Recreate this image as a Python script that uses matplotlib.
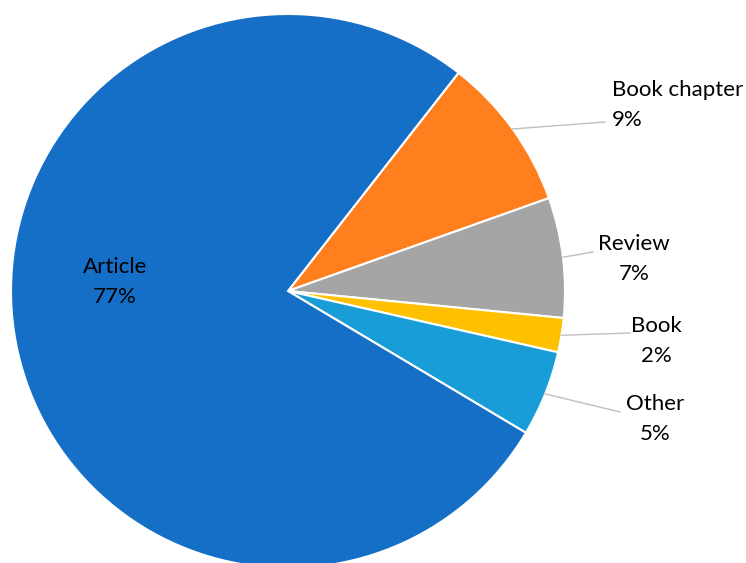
import numpy as np
import matplotlib.pyplot as plt

# Données (parts en %)
categories = ['Book chapter', 'Review', 'Book', 'Other', 'Article']
values = [9, 7, 2, 5, 77]
colors = ['#FF7F1F', '#A5A5A5', '#FFC000', '#199DD8', '#156FC6']

# Positions des étiquettes (coordonnées pixels de l'image, centre du texte)
label_pos = {
    'Book chapter': (612, 105, 'left'),
    'Review': (634, 259, 'center'),
    'Book': (656, 341, 'center'),
    'Other': (655, 419, 'center'),
    'Article': (115, 282, 'center'),
}
line_end = {
    'Book chapter': (605, 122),
    'Review': (593, 252),
    'Book': (630, 333),
    'Other': (620, 412),
}

W, H = 746, 563
cx, cy, R = 288, 291, 277

def px(x, y):
    return (x - cx) / R, (cy - y) / R

fig = plt.figure(figsize=(W / 100, H / 100), dpi=100)
ax = fig.add_axes([0, 0, 1, 1])

wedges, _ = ax.pie(values, colors=colors, startangle=52, counterclock=False,
                   wedgeprops=dict(edgecolor='white', linewidth=1.5))

ax.set_xlim(-cx / R, (W - cx) / R)
ax.set_ylim(-(H - cy) / R, cy / R)
ax.set_aspect('equal')
ax.axis('off')

for w, name, v in zip(wedges, categories, values):
    tx, ty, ha = label_pos[name]
    x, y = px(tx, ty)
    ax.text(x, y, f"{name}\n{v}%", ha=ha, va='center', fontsize=16,
            family='Lato', linespacing=1.65, color='black')
    if name in line_end:
        mid = np.deg2rad((w.theta1 + w.theta2) / 2)
        ex, ey = px(*line_end[name])
        ax.plot([np.cos(mid), ex], [np.sin(mid), ey], color='#BFBFBF', lw=1)

plt.savefig('out.png', dpi=100)
